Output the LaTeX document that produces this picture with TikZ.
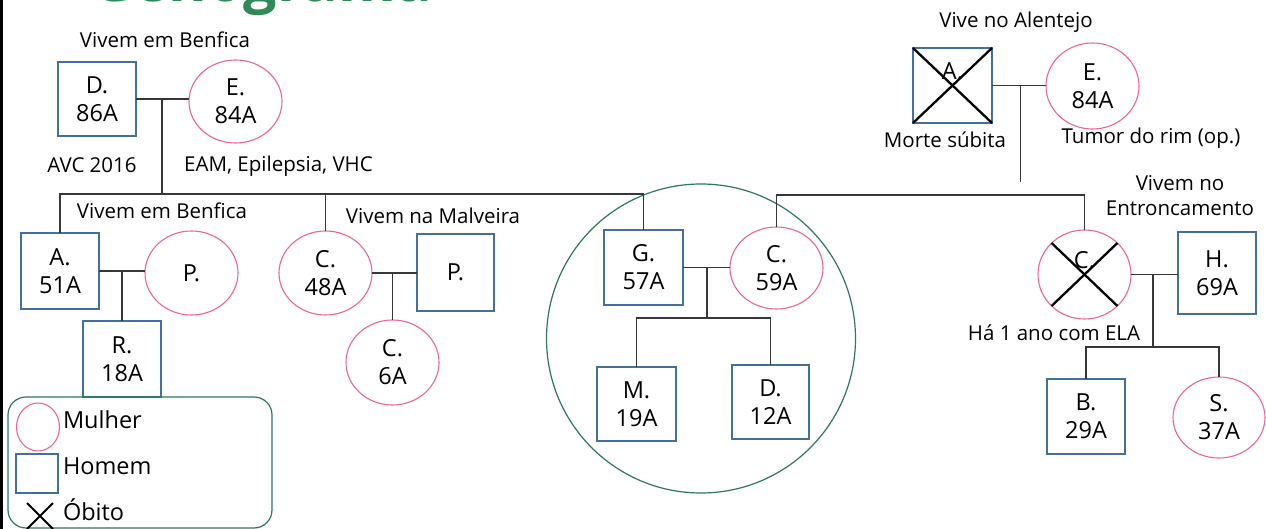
\documentclass[tikz,border=0pt]{standalone}
\usepackage{fontspec}
\setmainfont{Open Sans}
\usetikzlibrary{shapes.geometric}
\definecolor{mblue}{RGB}{65,113,156}
\definecolor{fpink}{RGB}{240,100,150}
\definecolor{tgreen}{RGB}{46,139,87}
\definecolor{cgreen}{RGB}{47,120,90}
\definecolor{lgray}{RGB}{55,55,55}
\newcommand\gnNode{\fontsize{23.5}{28}\selectfont}
\newcommand\gnLbl{\fontsize{20.5}{25}\selectfont}
\begin{document}
\begin{tikzpicture}[x=1pt,y=-1pt,
  every node/.style={inner sep=0pt, outer sep=0pt},
  male/.style={draw=mblue, line width=1.3pt, minimum width=78pt, minimum height=76pt, align=center, font=\gnNode},
  female/.style={ellipse, draw=fpink, line width=1.1pt, minimum width=93pt, minimum height=84pt, align=center, font=\gnNode},
  lbl/.style={font=\gnLbl, text=black, align=center},
  link/.style={draw=lgray, line width=1.2pt},
  cross/.style={line width=2.3pt, black},
]
\useasboundingbox (0,0) rectangle (1266,529);
\clip (0,0) rectangle (1266,529);
\fill[white] (0,0) rectangle (1266,529);
\draw[line width=3pt] (1.5,0) -- (1.5,529);

% title
\node[anchor=base west, font=\fontsize{59}{62}\selectfont\bfseries, text=tgreen] (title) at (91,2) {Genograma};

% group circle
\node[circle, draw=cgreen, line width=1.2pt, minimum size=309pt] (grp) at (701,338.5) {};

% generation 1 left
\node[male, minimum height=74pt] (D1) at (97,99) {D.\\86A};
\node[female, minimum height=83pt] (E1) at (235.5,101.5) {E.\\84A};
\draw[link] (D1.east) -- (D1.east -| E1.west);
\coordinate (c1) at (162,99);
\coordinate (s1) at (162,194);
\draw[link] (c1) -- (s1);

% generation 2 left
\node[male] (A2) at (60,271) {A.\\51A};
\node[female] (P2) at (191.5,273) {P.};
\node[male] (R2) at (122,359) {R.\\18A};
\node[female] (C2) at (325.5,273) {C.\\48A};
\node[male, minimum width=77pt, minimum height=77pt] (P3) at (455.5,272.5) {P.};
\node[female, minimum height=85pt] (C6) at (392.5,362.5) {C.\\6A};

\coordinate (sl) at (58,194);
\node[male, minimum width=79pt, minimum height=75pt] (G3) at (643.5,267.5) {G.\\57A};
\draw[link] (A2.north) -- (A2.north |- sl) -- (G3.north |- sl) -- (G3.north);
\draw[link] (C2.north) -- (C2.north |- sl);

\draw[link] (A2.east) -- (A2.east -| P2.west);
\draw[link] (A2.east -| R2.north) -- (R2.north);
\draw[link] (C2.east) -- (C2.east -| P3.west);
\draw[link] (C6.north |- C2.east) -- (C6.north);

% family in circle
\node[female, minimum height=82pt] (C3) at (776.5,268) {C.\\59A};
\node[male, minimum width=79pt, minimum height=74pt] (M3) at (636.5,404) {M.\\19A};
\node[male, minimum width=77pt, minimum height=74pt] (D3) at (770.5,402) {D.\\12A};
\draw[link] (G3.east) -- (G3.east -| C3.west);
\coordinate (m3) at (707,268);
\coordinate (k3) at (707,318);
\draw[link] (m3) -- (k3);
\draw[link] (M3.north) |- (k3);
\draw[link] (D3.north) |- (k3);

% generation 1 right
\node[male, minimum width=79pt, minimum height=75pt] (A4) at (952.5,85.5) {A.\\\phantom{8}};
\draw[cross] (A4.north west) -- (A4.south east);
\draw[cross] (A4.north east) -- (A4.south west);
\node[female, minimum height=86pt] (E4) at (1092.5,86) {E.\\84A};
\draw[link] (A4.east) -- (A4.east -| E4.west);
\coordinate (c4) at (1020.7,86);
\coordinate (c4e) at (1020.7,182);
\draw[link] (c4) -- (c4e);

% generation 2 right
\node[female, minimum height=89pt] (C4) at (1084.5,274.5) {C.\\\phantom{8}};
\draw[cross] (C4.north west) -- (C4.south east);
\draw[cross] (C4.north east) -- (C4.south west);
\node[male, minimum height=82pt] (H4) at (1217,273) {H.\\69A};
\coordinate (s4) at (776,195);
\draw[link] (C3.north) -- (C3.north |- s4) -- (C4.north |- s4) -- (C4.north);
\draw[link] (C4.east) -- (C4.east -| H4.west);
\node[male, minimum height=75pt] (B4) at (1086,416.5) {B.\\29A};
\node[female, minimum width=92pt, minimum height=81pt] (S4) at (1219,417.5) {S.\\37A};
\coordinate (m4) at (1153,275);
\coordinate (k4) at (1153,347);
\draw[link] (m4) -- (k4);
\draw[link] (B4.north) |- (k4);
\draw[link] (S4.north) |- (k4);

% labels
\node[lbl] (l1) at (165,40) {Vivem em Benfica};
\node[lbl] (l2) at (92,165) {AVC 2016};
\node[lbl] (l3) at (278.5,166) {EAM, Epilepsia, VHC};
\node[lbl] (l4) at (162,211) {Vivem em Benfica};
\node[lbl] (l5) at (433,216) {Vivem na Malveira};
\node[lbl] (l6) at (1016,22) {Vive no Alentejo};
\node[lbl] (l7) at (945,140) {Morte súbita};
\node[lbl] (l8) at (1151,138) {Tumor do rim (op.)};
\node[lbl] (l9) at (1180,196) {Vivem no\\Entroncamento};
\node[lbl] (l10) at (1054,333) {Há 1 ano com ELA};

% legend
\node[draw=cgreen, rounded corners=18pt, line width=1.2pt, minimum width=264pt, minimum height=131pt, anchor=north west] (leg) at (8,397) {};
\node[female, minimum width=43pt, minimum height=48pt] (lw) at (38,427) {};
\node[male, minimum width=42pt, minimum height=39pt] (lm) at (37,473.5) {};
\coordinate (lx1) at (27,503);
\coordinate (lx2) at (53,529);
\coordinate (lx3) at (53,503);
\coordinate (lx4) at (27,529);
\draw[line width=2pt] (lx1) -- (lx2);
\draw[line width=2pt] (lx3) -- (lx4);
\node[lbl, anchor=west, font=\gnNode] (t1) at (63,420) {Mulher};
\node[lbl, anchor=west, font=\gnNode] (t2) at (63,466) {Homem};
\node[lbl, anchor=west, font=\gnNode] (t3) at (63,510) {Óbito};
\end{tikzpicture}
\end{document}
